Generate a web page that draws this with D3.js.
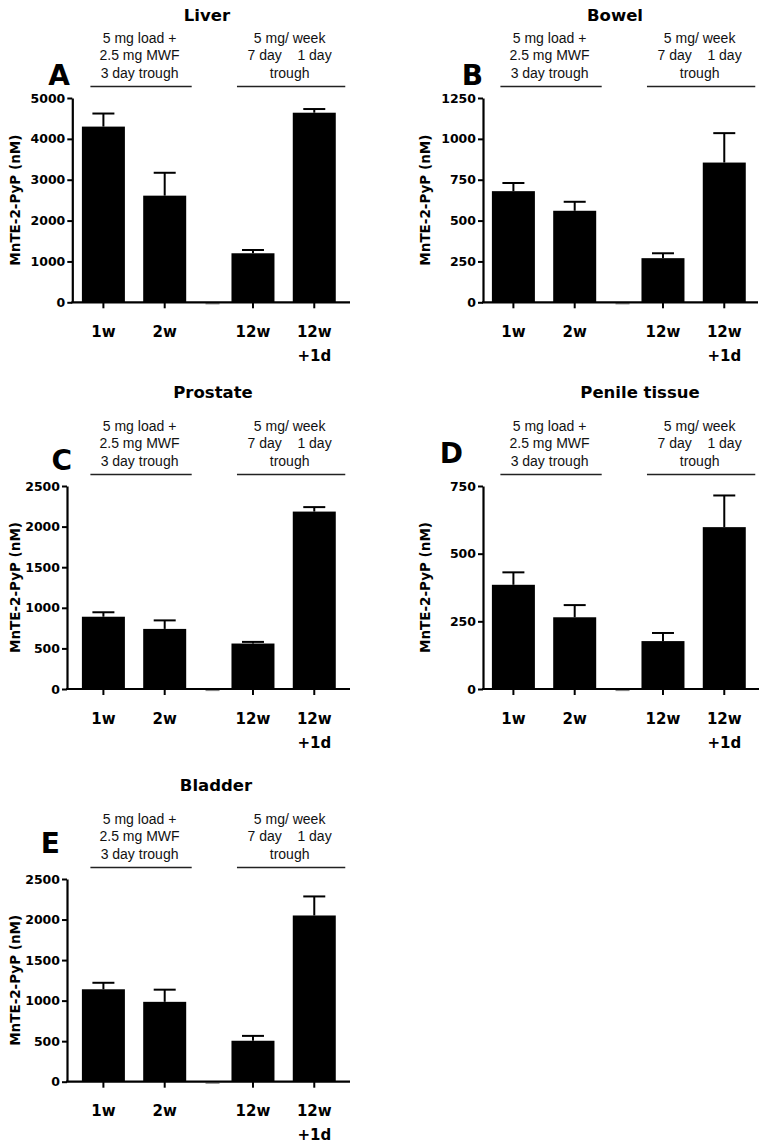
<!DOCTYPE html>
<html>
<head>
<meta charset="utf-8">
<script src="https://cdn.jsdelivr.net/npm/d3@7"></script>
<style>
  html, body { margin: 0; padding: 0; background: #fff; }
  svg { display: block; }
</style>
</head>
<body>
<svg id="chart" width="764" height="1148"></svg>
<script>
// ---------------- DATA ----------------
const categories = ["1w", "2w", "12w", "12w+1d"];
const xLabelLines = [["1w"], ["2w"], ["12w"], ["12w", "+1d"]];
const tissues = ["Liver", "Bowel", "Prostate", "Penile tissue", "Bladder"];
const panelLetters = ["A", "B", "C", "D", "E"];
const yAxisTitle = "MnTE-2-PyP (nM)";

const liverMean    = [4300, 2610, 1200, 4640];
const liverSEM     = [320, 560, 80, 90];
const bowelMean    = [680, 560, 270, 855];
const bowelSEM     = [50, 55, 30, 180];
const prostateMean = [890, 740, 560, 2185];
const prostateSEM  = [55, 105, 20, 55];
const penileMean   = [385, 265, 177, 598];
const penileSEM    = [46, 45, 30, 117];
const bladderMean  = [1140, 985, 505, 2050];
const bladderSEM   = [80, 150, 60, 235];

const yMax   = [5000, 1250, 2500, 750, 2500];
const yStep  = [1000, 250, 500, 250, 500];

const group1Text = ["5 mg load +", "2.5 mg MWF", "3 day trough"];
const group2Text = ["5 mg/ week", "7 day    1 day", "trough"];

const means = [liverMean, bowelMean, prostateMean, penileMean, bladderMean];
const sems  = [liverSEM, bowelSEM, prostateSEM, penileSEM, bladderSEM];

// ---------------- LAYOUT ----------------
const layout = [
  { ox: 0,   top: 98,  bottom: 302.3, axisX: 72.3, axisEnd: 350, titleX: 207, titleY: 21,  letterX: 70,  letterY: 84.5 },
  { ox: 410, top: 98,  bottom: 302.3, axisX: 483,  axisEnd: 758, titleX: 615, titleY: 21,  letterX: 483, letterY: 85 },
  { ox: 0,   top: 486, bottom: 689,   axisX: 67,   axisEnd: 350, titleX: 213, titleY: 398, letterX: 72,  letterY: 470 },
  { ox: 410, top: 486, bottom: 689,   axisX: 483,  axisEnd: 759, titleX: 640, titleY: 398, letterX: 463, letterY: 463 },
  { ox: 0,   top: 879, bottom: 1081.7,axisX: 67,   axisEnd: 350, titleX: 216, titleY: 791, letterX: 60,  letterY: 853 }
];
const slotIndex = [0, 1, 2.44, 3.44];   // column slots (blank column between groups)
const gapSlot = 1.78;
const barW = 43, capW = 22;
const boldFont = "'DejaVu Sans', sans-serif";
const normFont = "'Liberation Sans', Arial, sans-serif";

const svg = d3.select("#chart");

tissues.forEach((name, p) => {
  const L = layout[p];
  const g = svg.append("g");
  const x = d3.scaleLinear().domain([0, 3.44]).range([L.ox + 103.4, L.ox + 103.4 + 61.3 * 3.44]);
  const y = d3.scaleLinear().domain([0, yMax[p]]).range([L.bottom, L.top]);
  const data = categories.map((c, i) => ({ c, i, m: means[p][i], s: sems[p][i], pos: x(slotIndex[i]) }));

  // title
  g.append("text").attr("x", L.titleX).attr("y", L.titleY)
    .attr("text-anchor", "middle").attr("font-family", boldFont)
    .attr("font-weight", "bold").attr("font-size", 16.5).text(name);

  // panel letter
  g.append("text").attr("x", L.letterX).attr("y", L.letterY)
    .attr("text-anchor", "end").attr("font-family", boldFont)
    .attr("font-weight", "bold").attr("font-size", 28).text(panelLetters[p]);

  // group annotations
  const groups = [
    { lines: group1Text, x0: x(slotIndex[0]) - 13, x1: x(slotIndex[1]) + 27 },
    { lines: group2Text, x0: x(slotIndex[2]) - 16, x1: x(slotIndex[3]) + 31 }
  ];
  groups.forEach(gr => {
    const cx = (gr.x0 + gr.x1) / 2 - 1.5;
    gr.lines.forEach((t, k) => {
      g.append("text").attr("x", cx).attr("y", L.top - 55.5 + k * 17.5)
        .attr("text-anchor", "middle").attr("font-family", normFont)
        .attr("font-size", 14).style("white-space", "pre").attr("fill", "#111").text(t);
    });
    g.append("line").attr("x1", gr.x0).attr("x2", gr.x1)
      .attr("y1", L.top - 11.5).attr("y2", L.top - 11.5)
      .attr("stroke", "#222").attr("stroke-width", 1.4);
  });

  // bars
  g.selectAll("rect.bar").data(data).join("rect").attr("class", "bar")
    .attr("x", d => d.pos - barW / 2).attr("width", barW)
    .attr("y", d => y(d.m)).attr("height", d => y(0) - y(d.m))
    .attr("fill", "#000");

  // error bars (upper)
  g.selectAll("line.err").data(data).join("line").attr("class", "err")
    .attr("x1", d => d.pos).attr("x2", d => d.pos)
    .attr("y1", d => y(d.m)).attr("y2", d => y(d.m + d.s))
    .attr("stroke", "#000").attr("stroke-width", 2);
  g.selectAll("line.cap").data(data).join("line").attr("class", "cap")
    .attr("x1", d => d.pos - capW / 2).attr("x2", d => d.pos + capW / 2)
    .attr("y1", d => y(d.m + d.s)).attr("y2", d => y(d.m + d.s))
    .attr("stroke", "#000").attr("stroke-width", 2);

  // blank column marker
  g.append("line").attr("x1", x(gapSlot) - 7).attr("x2", x(gapSlot) + 7)
    .attr("y1", y(0) + 1.5).attr("y2", y(0) + 1.5)
    .attr("stroke", "#888").attr("stroke-width", 1.2);

  // y axis
  const yAxis = d3.axisLeft(y).tickValues(d3.range(0, yMax[p] + 1, yStep[p]))
    .tickSize(5).tickPadding(2).tickSizeOuter(0).tickFormat(d3.format("d"));
  const ya = g.append("g").attr("transform", `translate(${L.axisX},0)`).call(yAxis);
  ya.select(".domain").attr("stroke", "#000").attr("stroke-width", 2.2);
  ya.selectAll(".tick line").attr("stroke", "#000").attr("stroke-width", 2);
  ya.selectAll(".tick text").attr("font-family", boldFont).attr("font-weight", "bold")
    .attr("font-size", 12.5).attr("fill", "#000");

  // x axis
  g.append("line").attr("x1", L.axisX - 1).attr("x2", L.axisEnd)
    .attr("y1", y(0)).attr("y2", y(0)).attr("stroke", "#000").attr("stroke-width", 2.2);
  g.selectAll("line.xt").data(data).join("line").attr("class", "xt")
    .attr("x1", d => d.pos).attr("x2", d => d.pos)
    .attr("y1", y(0)).attr("y2", y(0) + 6).attr("stroke", "#000").attr("stroke-width", 2);

  // x labels
  data.forEach(d => {
    xLabelLines[d.i].forEach((t, k) => {
      g.append("text").attr("x", d.pos).attr("y", y(0) + 34.5 + k * 24)
        .attr("text-anchor", "middle").attr("font-family", boldFont)
        .attr("font-weight", "bold").attr("font-size", 15).text(t);
    });
  });

  // y title
  const cyT = (L.top + L.bottom) / 2;
  g.append("text").attr("transform", `translate(${L.ox + 15},${cyT}) rotate(-90)`)
    .attr("text-anchor", "middle").attr("dy", "0.36em")
    .attr("font-family", boldFont).attr("font-weight", "bold")
    .attr("font-size", 13.5).text(yAxisTitle);
});
</script>
</body>
</html>
